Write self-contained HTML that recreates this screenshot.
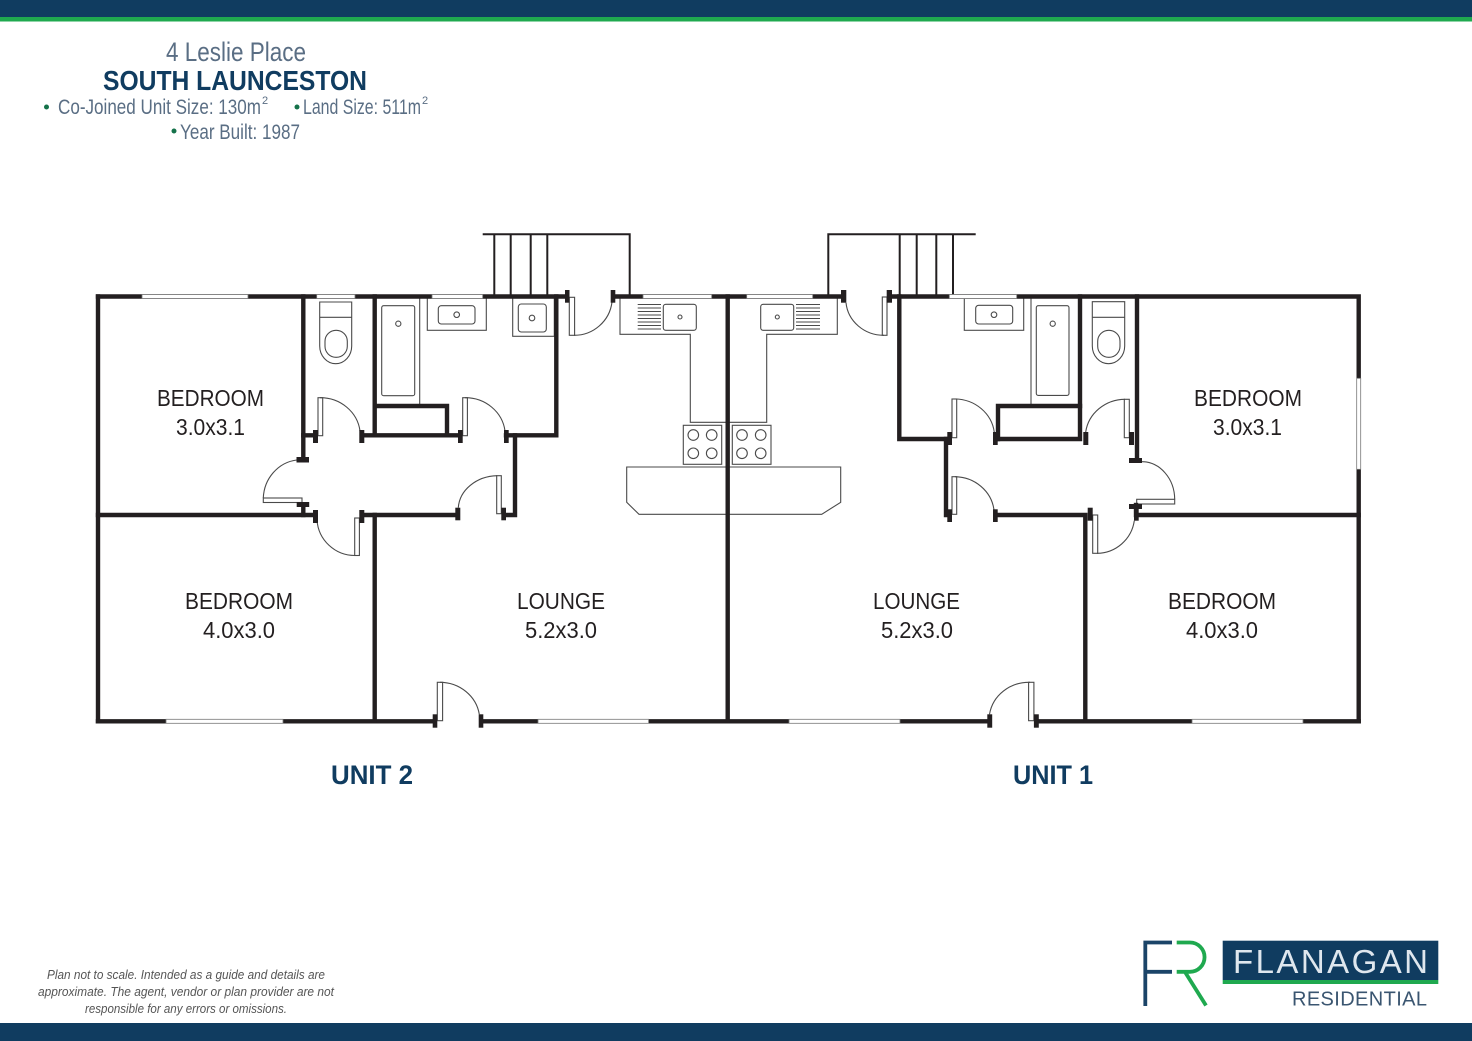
<!DOCTYPE html>
<html><head><meta charset="utf-8"><title>4 Leslie Place floor plan</title>
<style>html,body{margin:0;padding:0;background:#fff}svg{display:block}text{font-family:"Liberation Sans",sans-serif}</style></head>
<body>
<svg width="1472" height="1041" viewBox="0 0 1472 1041" xmlns="http://www.w3.org/2000/svg">
<rect x="0" y="0" width="1472" height="17" fill="#103c60"/>
<rect x="0" y="17" width="1472" height="4.5" fill="#1fa94f"/>
<rect x="0" y="1023" width="1472" height="18" fill="#103c60"/>

<!-- header -->
<g fill="#5a6e84">
<text x="166" y="61" font-size="27" textLength="140" lengthAdjust="spacingAndGlyphs">4 Leslie Place</text>
<text x="58" y="114" font-size="21" textLength="203" lengthAdjust="spacingAndGlyphs">Co-Joined Unit Size:  130m</text>
<text x="262" y="104" font-size="11">2</text>
<text x="303" y="114" font-size="21" textLength="118" lengthAdjust="spacingAndGlyphs">Land Size: 511m</text>
<text x="422" y="104" font-size="11">2</text>
<text x="180" y="139" font-size="21" textLength="120" lengthAdjust="spacingAndGlyphs">Year Built:  1987</text>
</g>
<text x="103" y="90" font-size="28" font-weight="bold" fill="#103c60" textLength="264" lengthAdjust="spacingAndGlyphs">SOUTH LAUNCESTON</text>
<g fill="#15724a"><circle cx="46.500" cy="107" r="2.500"/><circle cx="297" cy="107" r="2.500"/><circle cx="174" cy="131" r="2.500"/></g>

<!-- thin fixtures -->
<g fill="none" stroke="#4a4a4a" stroke-width="1.100">
<rect x="381.700" y="305.700" width="33" height="90" rx="2"/><circle cx="398.300" cy="323.700" r="2.600"/>
<path d="M419.700 298V404"/>
<rect x="427.300" y="298" width="59" height="32.300"/><rect x="438.300" y="305.700" width="36.700" height="18.300" rx="3"/><circle cx="456.700" cy="314.700" r="2.800"/>
<rect x="512.700" y="298" width="41.600" height="38.300"/><rect x="518.300" y="304" width="28" height="28" rx="3"/><circle cx="532" cy="318" r="2.800"/>
<path d="M319.700 302H351.700V346A16 17.700 0 0 1 319.700 346Z"/><path d="M319.700 317.300H351.700" /><rect x="325" y="330.300" width="22.300" height="27" rx="11"/>
<path d="M620 298V334.300H690.300V422.300H727.700H766.700V334.300H837.300V298"/>
<rect x="663.300" y="304.300" width="33" height="26" rx="2.500"/><circle cx="680" cy="317" r="2"/>
<rect x="760.700" y="304.300" width="33" height="26" rx="2.500"/><circle cx="777.300" cy="317" r="2"/>
<path d="M637.700 304.500H661M637.700 308H661M637.700 311.500H661M637.700 315H661M637.700 318.500H661M637.700 322H661M637.700 325.500H661M637.700 329H661"/>
<path d="M796 304.500H820M796 308H820M796 311.500H820M796 315H820M796 318.500H820M796 322H820M796 325.500H820M796 329H820"/>
<rect x="683.300" y="425.300" width="38.400" height="39"/><rect x="732.300" y="425.300" width="38.700" height="39"/>
<circle cx="693.300" cy="435" r="5.300"/><circle cx="711.700" cy="435" r="5.300"/><circle cx="693.300" cy="453.300" r="5.300"/><circle cx="711.700" cy="453.300" r="5.300"/>
<circle cx="742" cy="435" r="5.300"/><circle cx="760.700" cy="435" r="5.300"/><circle cx="742" cy="453.300" r="5.300"/><circle cx="760.700" cy="453.300" r="5.300"/>
<path d="M626.700 467H840.700V502.300L821.700 514.300H639L626.700 502.300Z"/>
<rect x="964.300" y="298" width="59.400" height="32.300"/><rect x="975.700" y="305.300" width="37" height="18.700" rx="3"/><circle cx="994" cy="314.700" r="2.800"/>
<path d="M1031 298V406"/><rect x="1036.300" y="305.700" width="32.700" height="89.700" rx="2"/><circle cx="1052.700" cy="323.700" r="2.600"/>
<path d="M1092.300 301.700H1124.700V346A16.200 17.700 0 0 1 1092.300 346Z"/><path d="M1092.300 317.300H1124.700"/><rect x="1097.700" y="330.300" width="22.300" height="27" rx="11"/>
<rect x="318" y="397.700" width="4.700" height="38"/>
<rect x="263.300" y="498" width="38.700" height="4.500"/>
<rect x="354.700" y="518" width="4.700" height="37.500"/>
<rect x="462.700" y="397.700" width="4.700" height="38"/>
<rect x="496.700" y="475.700" width="4.600" height="38"/>
<rect x="569.300" y="297.300" width="5.300" height="38"/>
<rect x="882.300" y="297" width="4.700" height="38.300"/>
<rect x="952" y="399" width="4.700" height="38.700"/>
<rect x="952" y="476.700" width="4.700" height="37.600"/>
<rect x="1124.300" y="399.300" width="5" height="38.400"/>
<rect x="1136.700" y="499.300" width="38" height="4.700"/>
<rect x="1092.700" y="515" width="5" height="38.300"/>
<rect x="437.300" y="682.300" width="5.300" height="38.400"/>
<rect x="1028.600" y="682.300" width="5.300" height="38.400"/>
<path d="M320 397.700A40 38 0 0 1 360 431"/>
<path d="M296.700 460A38 40 0 0 0 263.300 498"/>
<path d="M317 520A38 38 0 0 0 355 555.500"/>
<path d="M465 397.700A40 38 0 0 1 505 431"/>
<path d="M458.300 507.700A40 34 0 0 1 497 475.700"/>
<path d="M574 335.300A38 38 0 0 0 612 302"/>
<path d="M846 302.700A38 36 0 0 0 884 335.300"/>
<path d="M955 399A40 38 0 0 1 994.300 432.300"/>
<path d="M955 476.700A40 38 0 0 1 994 510"/>
<path d="M1125 399.300A40 38 0 0 0 1085.700 432"/>
<path d="M1142 461.700A33 38 0 0 1 1174.700 499.300"/>
<path d="M1097 553.300A38 38 0 0 0 1134.300 520.700"/>
<path d="M440 682.300A40 38 0 0 1 479.300 714.300"/>
<path d="M1030 682.300A40 38 0 0 0 989.500 714.300"/>
</g>

<!-- walls -->
<g fill="none" stroke="#231f20" stroke-width="4.400" stroke-linecap="square">
<path d="M98 296.500V721.300"/>
<path d="M98 296.500H566"/>
<path d="M615 296.500H842"/>
<path d="M892 296.500H1358.700V721.300"/>
<path d="M98 721.300H434"/>
<path d="M482 721.300H989"/>
<path d="M1037 721.300H1358.700"/>
<path d="M727.700 296.500V721.300"/>
<path d="M303.300 296.500V458"/>
<path d="M303.300 435.300H315"/>
<path d="M374.700 296.500V435.300"/>
<path d="M362 435.300H460"/>
<path d="M374.700 406H447V435.300"/>
<path d="M506 435.300H556.300V296.500"/>
<path d="M515 435.300V515H504"/>
<path d="M374.700 515V721.300"/>
<path d="M362 515H457"/>
<path d="M98 515H315"/>
<path d="M303.300 505V515"/>
<path d="M899.300 296.500V439H948"/>
<path d="M946 439V515"/>
<path d="M996 515H1085.300V721.300"/>
<path d="M998 439V406H1080"/>
<path d="M998 439H1080V296.500"/>
<path d="M1137 296.500V460"/>
<path d="M1136.500 515H1358.700"/>
<path d="M1136 505V515"/>
</g>
<!-- steps -->
<g fill="none" stroke="#231f20" stroke-width="2">
<path d="M482.700 234.300H629.700V296M494.300 234.300V296M510.700 234.300V296M530.700 234.300V296M547.300 234.300V296"/>
<path d="M975.700 234.300H828.300V296M899.700 234.300V296M916.700 234.300V296M936.300 234.300V296M953 234.300V296"/>
</g>
<!-- windows -->
<g fill="#fff" stroke="#777" stroke-width="0.800">
<rect x="142" y="294.500" width="106" height="4"/>
<rect x="316.700" y="294.500" width="38.300" height="4"/>
<rect x="432" y="294.500" width="50.700" height="4"/>
<rect x="643" y="294.500" width="68.700" height="4"/>
<rect x="746.700" y="294.500" width="66" height="4"/>
<rect x="949.300" y="294.500" width="67.400" height="4"/>
<rect x="166" y="719.300" width="117" height="4"/>
<rect x="538" y="719.300" width="110.600" height="4"/>
<rect x="789" y="719.300" width="111" height="4"/>
<rect x="1192" y="719.300" width="111" height="4"/>
<rect x="1356.700" y="378.300" width="4" height="91"/>
</g>
<!-- jambs -->
<g fill="#231f20">
<rect x="313" y="430" width="5" height="13"/><rect x="359.300" y="430" width="5" height="13"/>
<rect x="296.500" y="457" width="12.500" height="5.500"/>
<rect x="296.700" y="502" width="12.500" height="5"/>
<rect x="313" y="510" width="5" height="13"/><rect x="359.300" y="510" width="5" height="13"/>
<rect x="458" y="430" width="4.700" height="13"/><rect x="504" y="430" width="4.700" height="13"/>
<rect x="455.300" y="507.700" width="5" height="12.600"/><rect x="501.300" y="507.700" width="4.700" height="12.600"/>
<rect x="565" y="290" width="4.500" height="12.700"/><rect x="610.700" y="290" width="4.600" height="12.700"/>
<rect x="841" y="290" width="5.300" height="12.700"/><rect x="886.700" y="290" width="5.300" height="12.700"/>
<rect x="947.300" y="432" width="4.700" height="13"/><rect x="993" y="432" width="4.700" height="13"/>
<rect x="947.300" y="509.300" width="4.700" height="12.700"/><rect x="993" y="509.300" width="4.700" height="12.700"/>
<rect x="1083.300" y="432" width="5" height="13"/><rect x="1129" y="432" width="5" height="13"/>
<rect x="1129" y="458" width="13" height="5"/><rect x="1129" y="504" width="13" height="5"/>
<rect x="1087.700" y="507.700" width="5" height="13"/><rect x="1134" y="507.700" width="4.700" height="13"/>
<rect x="432.700" y="714.300" width="4.600" height="13.400"/><rect x="478.700" y="714.300" width="4.600" height="13.400"/>
<rect x="987.300" y="714.300" width="4.900" height="13.400"/><rect x="1033.900" y="714.300" width="4.900" height="13.400"/>
</g>

<!-- labels -->
<g fill="#231f20" font-size="23.500">
<text x="157" y="406" textLength="107" lengthAdjust="spacingAndGlyphs">BEDROOM</text>
<text x="176" y="435" textLength="69" lengthAdjust="spacingAndGlyphs">3.0x3.1</text>
<text x="185" y="609" textLength="108" lengthAdjust="spacingAndGlyphs">BEDROOM</text>
<text x="203" y="638" textLength="72" lengthAdjust="spacingAndGlyphs">4.0x3.0</text>
<text x="517" y="609" textLength="88" lengthAdjust="spacingAndGlyphs">LOUNGE</text>
<text x="525" y="638" textLength="72" lengthAdjust="spacingAndGlyphs">5.2x3.0</text>
<text x="873" y="609" textLength="87" lengthAdjust="spacingAndGlyphs">LOUNGE</text>
<text x="881" y="638" textLength="72" lengthAdjust="spacingAndGlyphs">5.2x3.0</text>
<text x="1168" y="609" textLength="108" lengthAdjust="spacingAndGlyphs">BEDROOM</text>
<text x="1186" y="638" textLength="72" lengthAdjust="spacingAndGlyphs">4.0x3.0</text>
<text x="1194" y="406" textLength="108" lengthAdjust="spacingAndGlyphs">BEDROOM</text>
<text x="1213" y="435" textLength="69" lengthAdjust="spacingAndGlyphs">3.0x3.1</text>
</g>
<g fill="#103c60" font-size="27" font-weight="bold">
<text x="331" y="784" textLength="82" lengthAdjust="spacingAndGlyphs">UNIT 2</text>
<text x="1013" y="784" textLength="80" lengthAdjust="spacingAndGlyphs">UNIT 1</text>
</g>

<!-- disclaimer -->
<g fill="#555" font-size="13" font-style="italic">
<text x="47" y="979" textLength="278" lengthAdjust="spacingAndGlyphs">Plan not to scale. Intended as a guide and details are</text>
<text x="38" y="996" textLength="296" lengthAdjust="spacingAndGlyphs">approximate. The agent, vendor or plan provider are not</text>
<text x="85" y="1013" textLength="202" lengthAdjust="spacingAndGlyphs">responsible for any errors or omissions.</text>
</g>

<!-- logo -->
<path d="M1172 942.500H1145.300V1006M1145.300 971.800H1172" fill="none" stroke="#1b4468" stroke-width="3.800"/>
<path d="M1176.700 942.500H1190A14.500 14.600 0 0 1 1190 971.800H1176.700M1185 972L1206 1005.500" fill="none" stroke="#1fa94f" stroke-width="3.800"/>
<rect x="1222.700" y="940.700" width="215.600" height="39.300" fill="#103c60"/>
<rect x="1222.700" y="980" width="215.600" height="4" fill="#1fa94f"/>
<text x="1233" y="973" font-size="33" fill="#dfe7ee" textLength="195" lengthAdjust="spacing">FLANAGAN</text>
<text x="1292" y="1005.300" font-size="20" fill="#3a5570" textLength="135" lengthAdjust="spacing">RESIDENTIAL</text>
</svg>
</body></html>
